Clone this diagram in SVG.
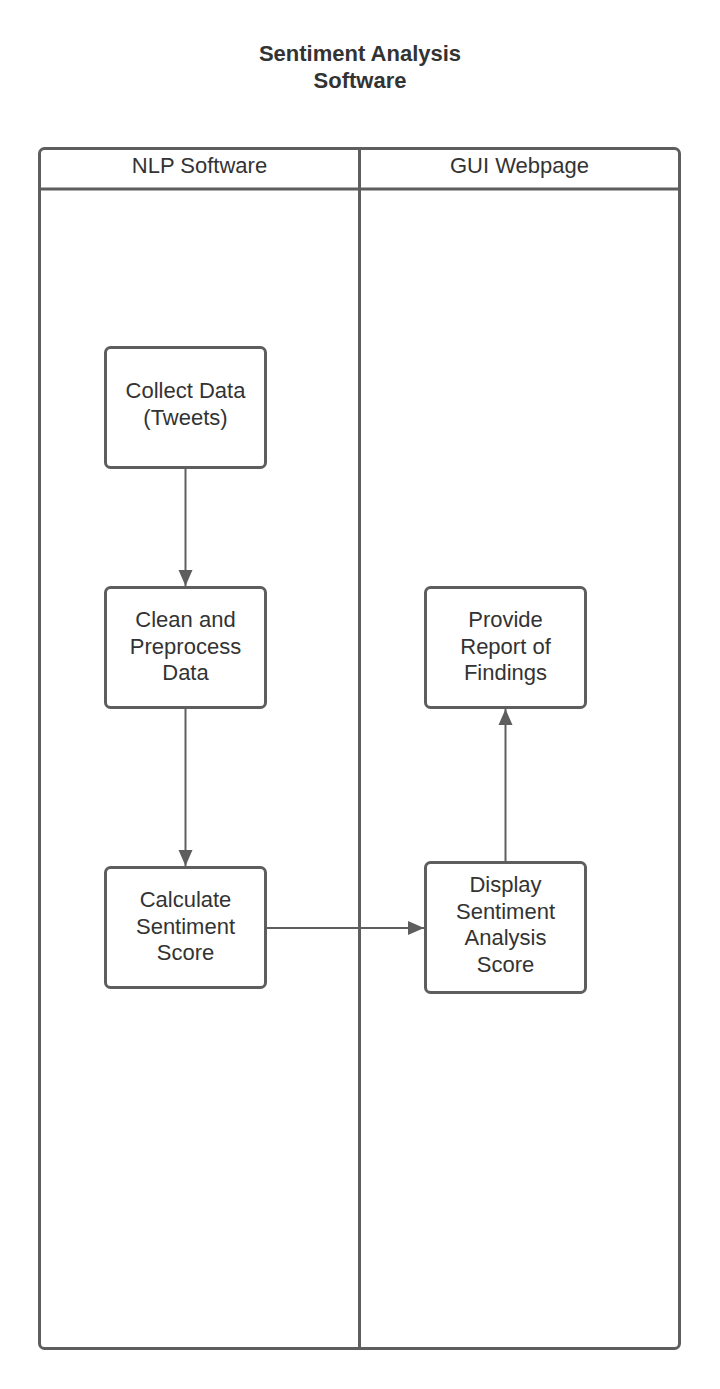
<svg xmlns="http://www.w3.org/2000/svg" width="720" height="1389" viewBox="0 0 720 1389">
<style>
.frame{fill:none;stroke:#5e5e5e;stroke-width:3}
.box{fill:#ffffff;stroke:#5e5e5e;stroke-width:3}
.conn{fill:none;stroke:#5e5e5e;stroke-width:2}
.t{font-family:"Liberation Sans",Arial,sans-serif;font-size:22px;fill:#333333;text-anchor:middle}
.title{font-family:"Liberation Sans",Arial,sans-serif;font-size:22px;font-weight:bold;fill:#333333;text-anchor:middle}
</style>
<defs>
<marker id="arrow" viewBox="0 0 16 16" refX="16" refY="8" markerWidth="16" markerHeight="16" markerUnits="userSpaceOnUse" orient="auto">
<path d="M0,1 L16,8 L0,15 z" fill="#5e5e5e"/>
</marker>
</defs>
<rect width="720" height="1389" fill="#ffffff"/>
<g id="title">
<text class="title" x="360" y="61">Sentiment Analysis</text>
<text class="title" x="360" y="88">Software</text>
</g>
<g id="pool">
<rect class="frame" x="39.5" y="148.5" width="640" height="1200" rx="5"/>
<line class="frame" x1="39.5" y1="189" x2="679.5" y2="189"/>
<line class="frame" x1="359.5" y1="148.5" x2="359.5" y2="1348.5"/>
<text class="t" x="199.5" y="173">NLP Software</text>
<text class="t" x="519.5" y="173">GUI Webpage</text>
</g>
<g id="connectors">
<line class="conn" x1="185.5" y1="468" x2="185.5" y2="586" marker-end="url(#arrow)"/>
<line class="conn" x1="185.5" y1="708" x2="185.5" y2="866" marker-end="url(#arrow)"/>
<line class="conn" x1="266" y1="928" x2="424" y2="928" marker-end="url(#arrow)"/>
<line class="conn" x1="505.5" y1="862" x2="505.5" y2="709" marker-end="url(#arrow)"/>
</g>
<g id="collect">
<rect class="box" x="105.5" y="347.5" width="160" height="120" rx="5"/>
<text class="t" x="185.5" y="398">Collect Data</text>
<text class="t" x="185.5" y="425">(Tweets)</text>
</g>
<g id="clean">
<rect class="box" x="105.5" y="587.5" width="160" height="120" rx="5"/>
<text class="t" x="185.5" y="627">Clean and</text>
<text class="t" x="185.5" y="654">Preprocess</text>
<text class="t" x="185.5" y="680">Data</text>
</g>
<g id="calculate">
<rect class="box" x="105.5" y="867.5" width="160" height="120" rx="5"/>
<text class="t" x="185.5" y="907">Calculate</text>
<text class="t" x="185.5" y="934">Sentiment</text>
<text class="t" x="185.5" y="960">Score</text>
</g>
<g id="provide">
<rect class="box" x="425.5" y="587.5" width="160" height="120" rx="5"/>
<text class="t" x="505.5" y="627">Provide</text>
<text class="t" x="505.5" y="654">Report of</text>
<text class="t" x="505.5" y="680">Findings</text>
</g>
<g id="display">
<rect class="box" x="425.5" y="862.5" width="160" height="130" rx="5"/>
<text class="t" x="505.5" y="892">Display</text>
<text class="t" x="505.5" y="919">Sentiment</text>
<text class="t" x="505.5" y="945">Analysis</text>
<text class="t" x="505.5" y="972">Score</text>
</g>
</svg>
